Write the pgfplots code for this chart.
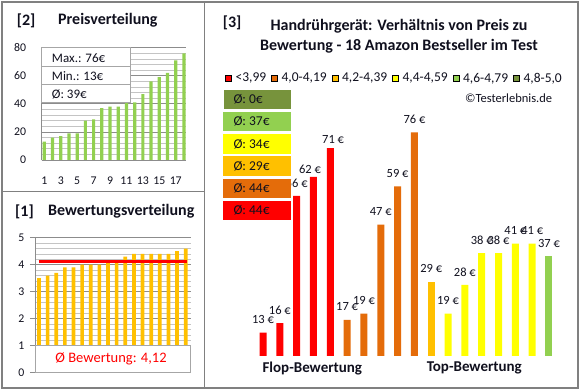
\documentclass[border=0pt]{standalone}
\usepackage{pgfplots}
\pgfplotsset{compat=1.18}
\usepackage{pgfplotstable}
\usepackage{fontspec}
\setmainfont{Carlito}
\definecolor{cRed}{HTML}{FF0000}
\definecolor{cOrange}{HTML}{E46C0A}
\definecolor{cGold}{HTML}{FFC000}
\definecolor{cYellow}{HTML}{FFFF00}
\definecolor{cLGreen}{HTML}{92D050}
\definecolor{cDGreen}{HTML}{77933C}
\definecolor{frameGray}{HTML}{808080}
\definecolor{gridMajor}{HTML}{8C8C8C}
\definecolor{gridMinor}{HTML}{C4C4C4}
\definecolor{boxGray}{HTML}{A6A6A6}
\definecolor{txt}{HTML}{10101E}
\newcommand{\fs}[1]{\fontsize{#1}{#1}\selectfont}

\pgfplotstableread{
x y
1 13
2 16
3 17
4 19
5 19
6 28
7 29
8 37
9 38
10 38
11 41
12 41
13 47
14 56
15 59
16 62
17 71
18 76
}\pricetab

\pgfplotstableread{
x y
1 3.5
2 3.6
3 3.7
4 3.9
5 3.9
6 4.0
7 4.0
8 4.0
9 4.1
10 4.1
11 4.3
12 4.4
13 4.4
14 4.4
15 4.4
16 4.4
17 4.5
18 4.6
}\ratingtab

\pgfplotstableread{
x y dx dy
1 13 0 13
2 16 0 13
3 56 0 13
4 62 -3.5 7.7
5 71 2.8 9
}\redtab
\pgfplotstableread{
x y dx dy
6 17 0 13
7 19 0 13
8 47 0 13
9 59 0 13
10 76 0 13
}\orangetab
\pgfplotstableread{
x y dx dy
11 29 0 13
}\goldtab
\pgfplotstableread{
x y dx dy
12 19 0 13
13 28 0 13
14 38 0 13
15 38 0 13
16 41 0 13
17 41 0 13
}\yellowtab
\pgfplotstableread{
x y dx dy
18 37 0 13
}\greentab

\pgfplotsset{lbl/.style={ybar, bar width=7pt, bar shift=0pt, draw=none, forget plot,
  visualization depends on={\thisrow{dx}\as\ldx},
  visualization depends on={\thisrow{dy}\as\ldy},
  nodes near coords={\pgfmathprintnumber{\pgfplotspointmeta} €},
  every node near coord/.append style={anchor=center, font=\fs{12.5}, text=txt, xshift=\ldx pt, yshift=\ldy pt}}}

\begin{document}
\begin{tikzpicture}[x=1pt,y=1pt]
\path[use as bounding box] (0,0) rectangle (580,390);
\fill[white] (0,0) rectangle (580,390);

% ---------- Panel [2] Preisverteilung ----------
\begin{axis}[at={(41.7pt,230pt)}, anchor=south west, scale only axis,
 width=144.3pt, height=112.3pt,
 xmin=0.68, xmax=18.25, ymin=0, ymax=80,
 axis x line*=bottom, axis y line*=left,
 axis line style={gridMajor, line width=0.8pt},
 ytick={0,20,40,60,80}, minor y tick num=4,
 ymajorgrids, yminorgrids,
 major grid style={gridMajor, line width=0.7pt},
 minor grid style={gridMinor, line width=0.7pt},
 xtick={1,3,...,17},
 major tick length=0pt, minor tick length=0pt,
 tick label style={font=\fs{11.8}, text=txt},
 /pgf/number format/assume math mode=true,
 yticklabel style={xshift=-12pt},
 xticklabel style={yshift=-13pt},
]
\addplot[ybar, bar width=3.2pt, bar shift=0pt, fill=cLGreen, draw=none] table[x=x,y=y] {\pricetab};
\end{axis}
\draw[boxGray, fill=white, line width=0.8pt] (41.7,287.3) rectangle (130,342.3);
\draw[boxGray, line width=0.8pt] (41.7,323.7) -- (130,323.7) (41.7,305.3) -- (130,305.3);
\node[anchor=west, inner sep=0pt, font=\fs{13}, text=txt] at (51.7,332) {Max.: 76€};
\node[anchor=west, inner sep=0pt, font=\fs{13}, text=txt] at (51.7,313.5) {Min.: 13€};
\node[anchor=west, inner sep=0pt, font=\fs{13}, text=txt] at (51.7,295.5) {Ø: 39€};
\node[anchor=west, inner sep=0pt, font=\bfseries\fs{16}, text=txt] at (16.7,369.3) {[2]};
\node[anchor=west, inner sep=0pt, font=\bfseries\fs{16}, text=txt] at (58,369.3) {Preisverteilung};

% ---------- Panel [1] Bewertungsverteilung ----------
\begin{axis}[at={(35pt,17.3pt)}, anchor=south west, scale only axis,
 width=155.7pt, height=135pt,
 xmin=0.54, xmax=18.58, ymin=0, ymax=5,
 axis x line*=bottom, axis y line*=left,
 axis line style={gridMajor, line width=0.8pt},
 ytick={0,1,2,3,4,5}, minor y tick num=4,
 ymajorgrids, yminorgrids,
 major grid style={gridMajor, line width=0.7pt},
 minor grid style={gridMinor, line width=0.7pt},
 xtick=\empty,
 tick align=outside, major tick length=5pt, minor tick length=0pt,
 major tick style={gridMajor, line width=0.7pt},
 tick label style={font=\fs{11.8}, text=txt},
 /pgf/number format/assume math mode=true,
 yticklabel style={xshift=-2pt},
]
\addplot[ybar, bar width=3.7pt, bar shift=0pt, fill=cGold, draw=none] table[x=x,y=y] {\ratingtab};
\addplot[cRed, line width=3.3pt] coordinates {(0.97,4.12) (18.15,4.12)};
\end{axis}
\draw[boxGray, fill=white, line width=0.8pt] (35,17.3) rectangle (190.7,45);
\node[inner sep=0pt, font=\fs{14.5}, text=cRed] at (111,30.7) {Ø Bewertung: 4,12};
\node[anchor=west, inner sep=0pt, font=\bfseries\fs{16}, text=txt] at (15,178.3) {[1]};
\node[anchor=west, inner sep=0pt, font=\bfseries\fs{16}, text=txt] at (48,178.3) {Bewertungsverteilung};

% ---------- Panel [3] ----------
\begin{axis}[at={(246.2pt,34pt)}, anchor=south west, scale only axis,
 width=319.6pt, height=252.3pt,
 xmin=0, xmax=19, ymin=5.67, ymax=85,
 axis line style={draw=none}, ytick=\empty,
 xtick={3.93,13.56}, xticklabels={Flop-Bewertung,Top-Bewertung},
 major tick length=0pt,
 /pgf/number format/assume math mode=true,
 xticklabel style={font=\bfseries\fs{15}, text=txt, yshift=-2pt},
 legend style={at={(-0.0663,1.1007)}, anchor=west, draw=none, fill=none,
   legend columns=-1, font=\fs{13.5}, text=txt, inner sep=0pt,
   nodes={inner sep=1pt},
   /tikz/every even column/.append style={column sep=4pt},
   /tikz/every odd column/.append style={column sep=3pt}},
 legend image code/.code={\fill[#1] (0pt,-3pt) rectangle (6pt,3pt);},
]
\addplot[lbl, fill=cRed] table[x=x,y=y] {\redtab};
\addplot[lbl, fill=cOrange] table[x=x,y=y] {\orangetab};
\addplot[lbl, fill=cGold] table[x=x,y=y] {\goldtab};
\addplot[lbl, fill=cYellow] table[x=x,y=y] {\yellowtab};
\addplot[lbl, fill=cLGreen] table[x=x,y=y] {\greentab};
\addlegendimage{fill=cRed}\addlegendentry{<3,99}
\addlegendimage{fill=cOrange}\addlegendentry{4,0-4,19}
\addlegendimage{fill=cGold}\addlegendentry{4,2-4,39}
\addlegendimage{fill=cYellow}\addlegendentry{4,4-4,59}
\addlegendimage{fill=cLGreen}\addlegendentry{4,6-4,79}
\addlegendimage{fill=cDGreen}\addlegendentry{4,8-5,0}
\end{axis}

% average boxes
\fill[cDGreen] (224,300.2) rectangle (290.7,280.7);
\node[anchor=west, inner sep=0pt, font=\fs{13.5}, text=txt] at (233.3,290.5) {Ø: 0€};
\fill[cLGreen] (223,278) rectangle (291,258.5);
\node[anchor=west, inner sep=0pt, font=\fs{13.5}, text=txt] at (233.3,268.3) {Ø: 37€};
\fill[cYellow] (223,255.8) rectangle (291,236.3);
\node[anchor=west, inner sep=0pt, font=\fs{13.5}, text=txt] at (233.3,246.1) {Ø: 34€};
\fill[cGold] (223,233.6) rectangle (291,214.1);
\node[anchor=west, inner sep=0pt, font=\fs{13.5}, text=txt] at (233.3,223.9) {Ø: 29€};
\fill[cOrange] (223,211.4) rectangle (291,191.9);
\node[anchor=west, inner sep=0pt, font=\fs{13.5}, text=txt] at (233.3,201.7) {Ø: 44€};
\fill[cRed] (223,189.2) rectangle (291,169.7);
\node[anchor=west, inner sep=0pt, font=\fs{13.5}, text=txt] at (233.3,179.5) {Ø: 44€};

\node[anchor=west, inner sep=0pt, font=\bfseries\fs{16}, text=txt] at (222.7,367.5) {[3]};
\node[align=center, inner sep=0pt, font=\bfseries\fontsize{16}{20}\selectfont, text=txt] at (399,354) {Handrührgerät: Verhältnis von Preis zu\\Bewertung - 18 Amazon Bestseller im Test};
\node[anchor=east, inner sep=0pt, font=\fs{12.5}, text=txt] at (552.3,291.7) {©Testerlebnis.de};

% frame
\draw[frameGray, line width=1.2pt] (2,2) rectangle (578,388);
\draw[frameGray, line width=1.2pt] (204.5,2) -- (204.5,388);
\draw[frameGray, line width=1.2pt] (2,198.3) -- (204.5,198.3);
\end{tikzpicture}
\end{document}
